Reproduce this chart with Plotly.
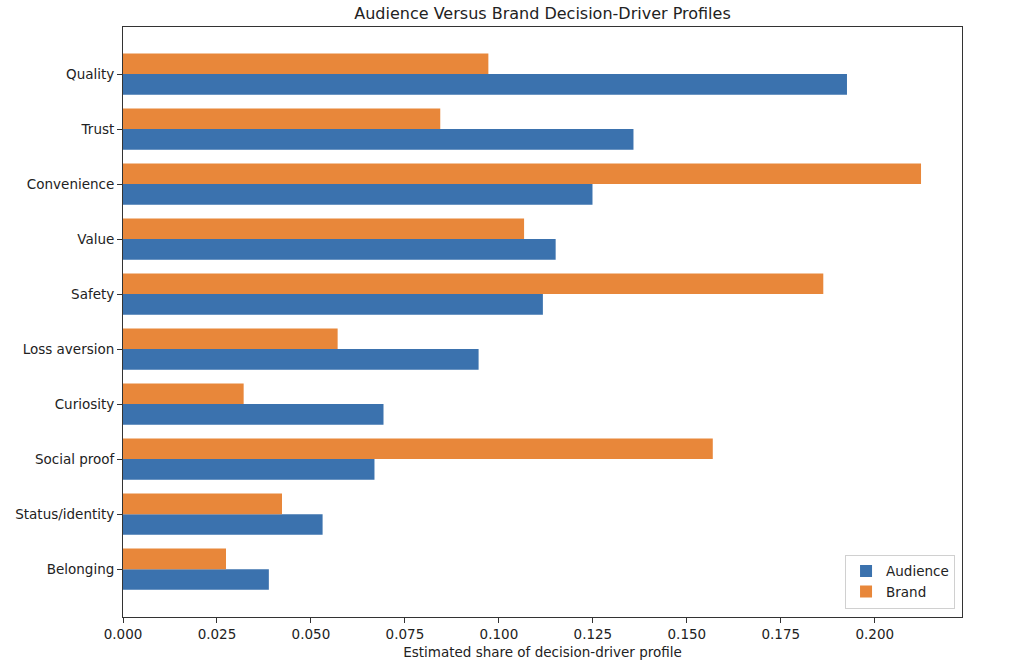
import plotly.graph_objects as go

categories = ["Quality", "Trust", "Convenience", "Value", "Safety",
              "Loss aversion", "Curiosity", "Social proof", "Status/identity", "Belonging"]
audience = [0.1926, 0.1358, 0.1249, 0.1151, 0.1117, 0.0946, 0.0693, 0.0669, 0.0531, 0.0388]
brand = [0.0972, 0.0844, 0.2123, 0.1067, 0.1863, 0.0571, 0.0321, 0.1569, 0.0423, 0.0274]
x_ticks = [0.0, 0.025, 0.05, 0.075, 0.1, 0.125, 0.15, 0.175, 0.2]

BLUE = "#3b72ae"
ORANGE = "#e8873a"
FONT = "DejaVu Sans"

W, H = 1024, 672

fig = go.Figure()
fig.add_trace(go.Bar(y=categories, x=audience, name="Audience", orientation="h",
                     marker=dict(color=BLUE, line=dict(width=0))))
fig.add_trace(go.Bar(y=categories, x=brand, name="Brand", orientation="h",
                     marker=dict(color=ORANGE, line=dict(width=0))))

fig.update_layout(
    width=W, height=H,
    margin=dict(l=123, r=62, t=27, b=55),
    paper_bgcolor="white", plot_bgcolor="white",
    barmode="group", bargap=0.25, bargroupgap=0,
    font=dict(family=FONT, size=13.5, color="#222222"),
    title=dict(text="Audience Versus Brand Decision-Driver Profiles",
               x=0.5, xref="paper", xanchor="center",
               y=1 - 13 / H, yref="container", yanchor="middle",
               font=dict(size=16, color="#222222")),
    legend=dict(x=0.9917, y=0.014, xanchor="right", yanchor="bottom",
                bgcolor="rgba(255,255,255,0.85)", bordercolor="#d0d0d0", borderwidth=1,
                font=dict(size=13.5), traceorder="normal"),
    showlegend=True,
)

fig.update_xaxes(
    range=[0, 0.2232], tickmode="array", tickvals=x_ticks,
    ticktext=[f"{v:.3f}" for v in x_ticks],
    ticks="outside", ticklen=5, tickcolor="#333333",
    showline=True, linecolor="#333333", linewidth=1, mirror=True,
    showgrid=False, zeroline=False,
    title=dict(text="Estimated share of decision-driver profile", standoff=6,
               font=dict(size=13.5)),
)
fig.update_yaxes(
    categoryorder="array", categoryarray=categories[::-1],
    range=[-0.87, 9.855],
    ticks="outside", ticklen=5, tickcolor="#333333",
    showline=True, linecolor="#333333", linewidth=1, mirror=True,
    showgrid=False, zeroline=False,
)

fig.write_html("out.html",
               config={"displayModeBar": False},
               post_script="document.body.style.margin='0';document.body.style.overflow='hidden';")
